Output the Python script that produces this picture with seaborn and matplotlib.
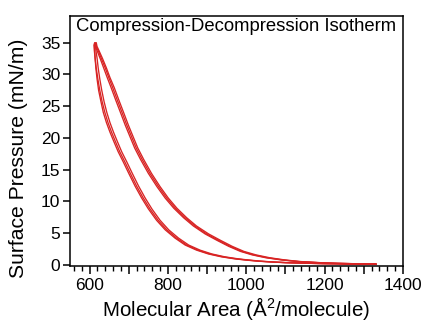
import numpy as np
import pandas as pd
import seaborn as sns
import matplotlib
matplotlib.use("Agg")
import matplotlib.pyplot as plt
from matplotlib.ticker import FixedLocator, MultipleLocator, FixedFormatter

# ---- data ----
comp_pressure = [0.1, 0.15, 0.22, 0.33, 0.5, 0.75, 1.1, 1.55, 2.1, 2.9, 3.85, 4.85, 6.1, 7.4, 8.9,
                 10.5, 12.3, 14.4, 16.6, 18.4, 20.2, 22.0, 23.8, 25.9, 27.9, 29.5, 31.0, 32.5, 33.6, 34.4, 35.0]
c1_comp_area = [1330, 1280, 1230, 1180, 1130, 1090, 1050, 1015, 985, 955, 925, 895, 865, 840, 815,
                793, 772, 750, 730, 715, 703, 691, 680, 667, 655, 645, 636, 627, 620, 615, 613]
c2_comp_area = [1328, 1282, 1233, 1184, 1134, 1094, 1054, 1019, 989, 959, 929, 899, 869, 844, 819,
                797, 776, 754, 734, 719, 707, 695, 684, 671, 659, 649, 640, 630, 623, 617, 615]
c3_comp_area = [1332, 1285, 1237, 1188, 1139, 1099, 1060, 1025, 994, 964, 934, 904, 873, 848, 823,
                801, 780, 758, 738, 723, 711, 699, 688, 675, 663, 652, 643, 633, 625, 619, 617]

dec_pressure = [35.0, 34.6, 33.8, 32.6, 31.0, 29.3, 27.5, 25.7, 24.0, 22.4, 20.9, 19.4, 17.8, 16.2, 14.4,
                12.4, 10.5, 8.8, 7.0, 5.5, 4.2, 3.1, 2.3, 1.7, 1.25, 0.92, 0.72, 0.55, 0.42, 0.33,
                0.24, 0.17, 0.12, 0.1]
c1_dec_area = [613, 611, 612, 614, 617, 621, 626, 632, 639, 647, 656, 666, 677, 690, 704,
               720, 737, 754, 775, 797, 822, 848, 877, 907, 940, 975, 1005, 1035, 1070, 1100,
               1150, 1200, 1260, 1330]
c2_dec_area = [615, 613, 613, 614, 616, 619, 623, 629, 635, 643, 652, 662, 673, 686, 700,
               716, 733, 750, 771, 793, 818, 844, 873, 903, 936, 971, 1001, 1032, 1067, 1098,
               1148, 1198, 1258, 1328]
c3_dec_area = [617, 615, 616, 619, 622, 626, 631, 637, 644, 652, 661, 671, 682, 695, 709,
               725, 742, 759, 780, 802, 827, 853, 882, 912, 945, 980, 1010, 1040, 1074, 1104,
               1153, 1203, 1262, 1332]

x_ticks = [600, 700, 800, 900, 1000, 1100, 1200, 1300, 1400]
x_tick_labels = ["600", "", "800", "", "1000", "", "1200", "", "1400"]
y_ticks = [0, 5, 10, 15, 20, 25, 30, 35]

title = "Compression-Decompression Isotherm"
y_label = "Surface Pressure (mN/m)"
x_label = "Molecular Area (Å$\\mathregular{^2}$/molecule)"

# ---- build table ----
rows = []
cycles = [(c1_comp_area, c1_dec_area), (c2_comp_area, c2_dec_area), (c3_comp_area, c3_dec_area)]
for ci, (ca, da) in enumerate(cycles):
    k = 0
    for a, p in zip(ca, comp_pressure):
        rows.append((ci, k, a, p)); k += 1
    for a, p in zip(da, dec_pressure):
        rows.append((ci, k, a, p)); k += 1
df = pd.DataFrame(rows, columns=["cycle", "order", "area", "pressure"])

sns.set_style("ticks")
plt.rcParams["font.family"] = ["Liberation Sans", "DejaVu Sans"]
plt.rcParams["mathtext.fontset"] = "custom"
plt.rcParams["mathtext.rm"] = "Liberation Sans"
for k in ["text.color", "axes.labelcolor", "xtick.color", "ytick.color", "axes.edgecolor"]:
    plt.rcParams[k] = "black"

fig = plt.figure(figsize=(4.24, 3.23), dpi=100)
ax = fig.add_axes([70/424, 1-266/323, (403-70)/424, (266-16)/323])

red = "#d82424"
sns.lineplot(data=df, x="area", y="pressure", units="cycle", estimator=None,
             sort=False, color=red, lw=0.95, ax=ax)

ax.set_xlim(550, 1400)
ax.set_ylim(-0.2, 39.2)

ax.xaxis.set_major_locator(FixedLocator(x_ticks))
ax.xaxis.set_major_formatter(FixedFormatter(x_tick_labels))
ax.xaxis.set_minor_locator(MultipleLocator(20))
ax.yaxis.set_major_locator(FixedLocator(y_ticks))
ax.set_yticklabels([str(v) for v in y_ticks])

for s in ax.spines.values():
    s.set_linewidth(1.1)
    s.set_color("black")
ax.tick_params(axis="x", which="major", length=6, width=1.1, labelsize=12.5, pad=3, colors="black")
ax.tick_params(axis="x", which="minor", length=3.5, width=1.0, colors="black")
ax.tick_params(axis="y", which="major", length=5, width=1.1, labelsize=12.5, pad=2, colors="black")
ax.tick_params(top=False, right=False, which="both")

ax.set_xlabel(x_label, fontsize=14.8, color="black", labelpad=1)
ax.set_ylabel(y_label, fontsize=15.2, color="black")
ax.yaxis.set_label_coords(-0.127, 0.43)

ax.text(0.5, 0.99, title, transform=ax.transAxes, ha="center", va="top", fontsize=13.3, color="black")

fig.savefig("out.png", dpi=100)
